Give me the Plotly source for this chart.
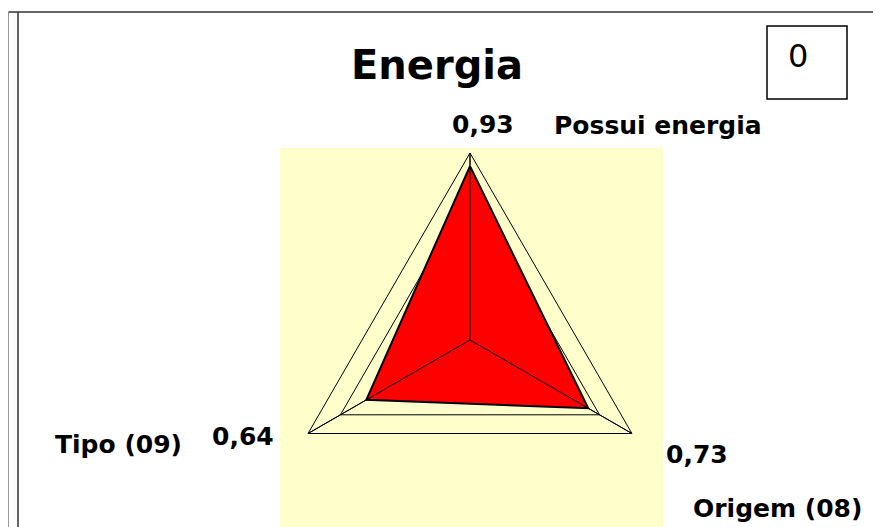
import plotly.graph_objects as go

# Data
categories = ["Possui energia", "Origem (08)", "Tipo (09)"]
values = [0.93, 0.73, 0.64]
title_text = "Energia"
box_text = "0"

# page has an 8px body margin, so the figure is 8px smaller and offset
OFF = 8
W, H = 881 - OFF, 527 - OFF
FONT = "DejaVu Sans"


def px(x):
    return (x - OFF) / W


def py(y):
    return 1 - (y - OFF) / H


def fmt(v):
    return f"{v:.2f}".replace(".", ",")


fig = go.Figure()

# Radar polygon (closed)
fig.add_trace(go.Scatterpolar(
    r=values + values[:1],
    theta=categories + categories[:1],
    mode="lines",
    fill="toself",
    fillcolor="#ff0000",
    line=dict(color="black", width=2),
    hoverinfo="skip",
    showlegend=False,
))

# spokes drawn on top of the filled area
r_max = 1.0
for cat in categories:
    fig.add_trace(go.Scatterpolar(
        r=[0, r_max], theta=[cat, cat], mode="lines",
        line=dict(color="black", width=1),
        hoverinfo="skip", showlegend=False,
    ))

fig.update_layout(
    width=W, height=H,
    margin=dict(l=0, r=0, t=0, b=0),
    paper_bgcolor="white",
    plot_bgcolor="white",
    polar=dict(
        domain=dict(x=[px(280), px(660)], y=[0, 374 / H]),
        bgcolor="rgba(0,0,0,0)",
        gridshape="linear",
        radialaxis=dict(range=[0, r_max], tickvals=[0.2, 0.4, 0.6, 0.8, 1.0],
                        showticklabels=False, showline=False, ticks="",
                        gridcolor="black", gridwidth=1),
        angularaxis=dict(rotation=90, direction="clockwise",
                         showticklabels=False, ticks="",
                         showline=True, linecolor="black", linewidth=1,
                         gridcolor="black", gridwidth=1),
    ),
)

shapes = [
    # pale yellow plot area
    dict(type="rect", xref="paper", yref="paper", x0=px(280), x1=px(663),
         y0=-0.05, y1=py(148), fillcolor="#ffffcc", line=dict(width=0),
         layer="below"),
    # frame lines
    dict(type="line", xref="paper", yref="paper", x0=px(8.5), x1=px(8.5),
         y0=0, y1=py(12), line=dict(color="#999999", width=1)),
    dict(type="line", xref="paper", yref="paper", x0=px(18), x1=px(18),
         y0=0, y1=py(12), line=dict(color="#333333", width=1.5)),
    dict(type="line", xref="paper", yref="paper", x0=px(8.5), x1=1,
         y0=py(12), y1=py(12), line=dict(color="#333333", width=1.5)),
    # small box top right
    dict(type="rect", xref="paper", yref="paper", x0=px(767), x1=px(847),
         y0=py(99), y1=py(26), line=dict(color="black", width=1.5)),
]
fig.update_layout(shapes=shapes)

bold = dict(family=FONT, size=25, color="black")
annotations = [
    dict(text=f"<b>{title_text}</b>", x=px(437), y=py(65),
         font=dict(family=FONT, size=40, color="black")),
    dict(text=box_text, x=px(798), y=py(56),
         font=dict(family=FONT, size=32, color="black")),
    dict(text=f"<b>{fmt(values[0])}</b>", x=px(483), y=py(124), font=bold),
    dict(text=f"<b>{categories[0]}</b>", x=px(658), y=py(126), font=bold),
    dict(text=f"<b>{fmt(values[2])}</b>", x=px(243), y=py(436), font=bold),
    dict(text=f"<b>{categories[2]}</b>", x=px(118), y=py(444), font=bold),
    dict(text=f"<b>{fmt(values[1])}</b>", x=px(697), y=py(454), font=bold),
    dict(text=f"<b>{categories[1]}</b>", x=px(777), y=py(508), font=bold),
]
for a in annotations:
    a.update(xref="paper", yref="paper", showarrow=False,
             xanchor="center", yanchor="middle")
fig.update_layout(annotations=annotations)

fig.write_html("out.html")
